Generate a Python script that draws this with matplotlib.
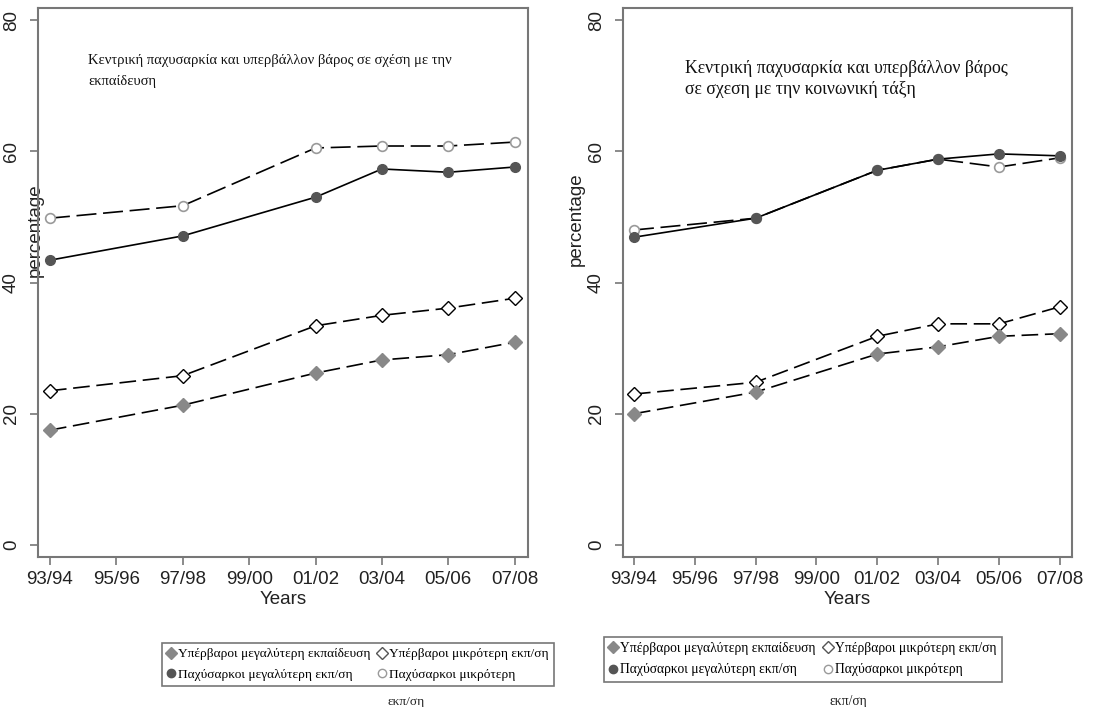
import numpy as np
import matplotlib.pyplot as plt
from matplotlib.lines import Line2D

# years on the x axis (index positions 0..7)
year_labels = ['93/94', '95/96', '97/98', '99/00', '01/02', '03/04', '05/06', '07/08']
x_pos = [0, 2, 4, 5, 6, 7]

# left panel: by education
edu_over_high = [17.5, 21.3, 26.2, 28.2, 29.0, 30.9]
edu_over_low = [23.5, 25.8, 33.4, 35.0, 36.1, 37.6]
edu_obese_high = [43.4, 47.1, 53.0, 57.3, 56.8, 57.6]
edu_obese_low = [49.8, 51.7, 60.5, 60.8, 60.8, 61.4]

# right panel: by social class
cls_over_high = [20.0, 23.3, 29.1, 30.2, 31.8, 32.2]
cls_over_low = [23.0, 24.8, 31.8, 33.7, 33.7, 36.3]
cls_obese_high = [46.9, 49.8, 57.1, 58.8, 59.6, 59.3]
cls_obese_low = [48.0, 49.8, 57.1, 58.8, 57.6, 59.0]

labels = ['Υπέρβαροι μεγαλύτερη εκπαίδευση', 'Παχύσαρκοι μεγαλύτερη εκπ/ση',
          'Υπέρβαροι μικρότερη εκπ/ση', 'Παχύσαρκοι μικρότερη']

serif = 'Liberation Serif'
sans = 'Liberation Sans'

fig = plt.figure(figsize=(10.96, 7.07), dpi=100)
W, H = 1096, 707


def box(x0, x1, y0, y1):
    return [x0 / W, 1 - y1 / H, (x1 - x0) / W, (y1 - y0) / H]


def panel(ax, over_high, over_low, obese_high, obese_low, title, tx, ty, lsp, tsize):
    ax.plot(x_pos, obese_low, color='black', lw=1.2, dashes=(12, 4), marker='o',
            ms=7, mfc='white', mec='#9a9a9a', mew=1.2)
    ax.plot(x_pos, obese_high, color='black', lw=1.2, marker='o',
            ms=7, mfc='#555555', mec='#555555')
    ax.plot(x_pos, over_low, color='black', lw=1.2, dashes=(10, 4), marker='D',
            ms=7, mfc='white', mec='black', mew=1.0)
    ax.plot(x_pos, over_high, color='black', lw=1.2, dashes=(10, 4), marker='D',
            ms=7, mfc='#888888', mec='#888888')
    ax.set_xlim(-0.18, 7.2)
    ax.set_ylim(-1.83, 81.83)
    ax.set_xticks(range(8))
    ax.set_xticklabels(year_labels, fontsize=13.5, family=sans, color='#222222')
    ax.set_yticks([0, 20, 40, 60, 80])
    ax.set_yticklabels(['0', '20', '40', '60', '80'], fontsize=13.5, family=sans,
                       rotation=90, va='center', color='#222222')
    ax.tick_params(direction='out', length=6, color='#777777', width=1.2, pad=4)
    ax.tick_params(axis='y', pad=7)
    for s in ax.spines.values():
        s.set_color('#777777')
        s.set_linewidth(1.5)
    ax.set_xlabel('Years', fontsize=13.5, family=sans, color='#222222', labelpad=2)
    ax.set_ylabel('percentage', fontsize=13.5, family=sans, color='#222222')
    fig.text(tx / W, 1 - ty / H, title, fontsize=tsize, family=serif,
             va='center', ha='left', linespacing=lsp, color='#111111')


ax1 = fig.add_axes(box(38, 528, 8, 557))
panel(ax1, edu_over_high, edu_over_low, edu_obese_high, edu_obese_low,
      'Κεντρική παχυσαρκία και υπερβάλλον βάρος σε σχέση με την\nεκπαίδευση',
      88, 71, 1.85, 10.5)
ax1.yaxis.set_label_coords(0.012, 0.595)

ax2 = fig.add_axes(box(623, 1072, 8, 557))
panel(ax2, cls_over_high, cls_over_low, cls_obese_high, cls_obese_low,
      'Κεντρική παχυσαρκία και υπερβάλλον βάρος\nσε σχεση με την κοινωνική τάξη',
      685, 79, 1.35, 12.8)
ax2.yaxis.set_label_coords(-0.085, 0.615)

handles = [
    Line2D([], [], ls='none', marker='D', ms=6, mfc='#888888', mec='#888888'),
    Line2D([], [], ls='none', marker='o', ms=6, mfc='#555555', mec='#555555'),
    Line2D([], [], ls='none', marker='D', ms=6, mfc='white', mec='#555555'),
    Line2D([], [], ls='none', marker='o', ms=6, mfc='white', mec='#9a9a9a'),
]

for lx, ly, lw_, dy in [(155, 636, 9.6, 66), (597, 630, 9.8, 72)]:
    leg = fig.legend(handles, labels, ncol=2, loc='upper left',
                     bbox_to_anchor=(lx / W, 1 - ly / H), frameon=True,
                     fancybox=False, edgecolor='#555555', handlelength=0.6,
                     handletextpad=0.2, columnspacing=0.6, borderpad=0.4,
                     labelspacing=0.6, prop={'family': serif, 'size': lw_})
    leg.get_frame().set_linewidth(1.2)
    fig.text((lx + 232) / W, 1 - (ly + dy) / H, 'εκπ/ση', fontsize=lw_,
             family=serif, va='center', color='#222222')

fig.savefig('out.png', dpi=100)
